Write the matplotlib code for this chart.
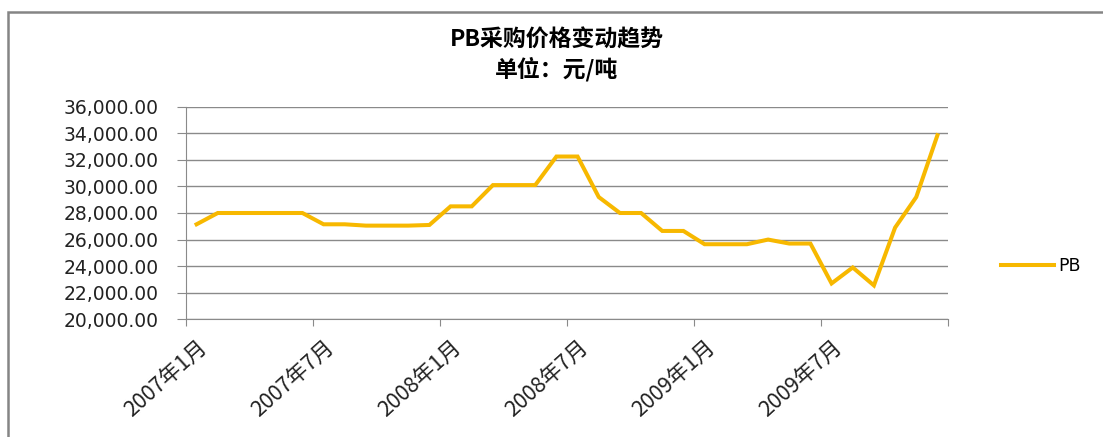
import matplotlib
matplotlib.use("Agg")
import matplotlib.pyplot as plt
from matplotlib.patches import Rectangle
from matplotlib.ticker import FuncFormatter
from matplotlib.transforms import ScaledTranslation

plt.rcParams['font.family'] = ['Noto Sans CJK SC', 'DejaVu Sans']

months = [f"{y}年{m}月" for y in (2007, 2008, 2009) for m in range(1, 13)]
pb = [27150, 28000, 28000, 28000, 28000, 28000, 27150, 27150, 27050, 27050, 27050, 27100,
      28500, 28500, 30100, 30100, 30100, 32250, 32250, 29200, 28000, 28000, 26650, 26650,
      25650, 25650, 25650, 26000, 25700, 25700, 22700, 23900, 22550, 26900, 29200, 33850]
label_idx = [0, 6, 12, 18, 24, 30]
yticks = list(range(20000, 36001, 2000))
title = "PB采购价格变动趋势\n单位：元/吨"
series_name = "PB"

fig = plt.figure(figsize=(11.03, 4.37), dpi=100)
fig.patches.append(Rectangle((8/1103, -0.1), 1.2, 1 - 12/437 + 0.1, transform=fig.transFigure,
                             fill=False, edgecolor='#858585', linewidth=1.8))
ax = fig.add_axes([186/1103, 1 - 319.3/437, (948 - 186)/1103, (319.3 - 106.7)/437])

x = list(range(len(pb)))
ax.plot(x, pb, color='#F7B800', linewidth=2.9, solid_joinstyle='miter', label=series_name)

ax.set_xlim(-0.5, len(pb) - 0.5)
ax.set_ylim(20000, 36000)
ax.set_yticks(yticks)
ax.yaxis.set_major_formatter(FuncFormatter(lambda v, p: f"{v:,.2f}"))
ax.grid(axis='y', color='#8a8a8a', linewidth=1)
ax.set_axisbelow(True)

ax.set_xticks([i - 0.5 for i in range(0, len(pb) + 1, 6)])
ax.set_xticklabels([])
ax.set_xticks(label_idx, minor=True)
ax.set_xticklabels([months[i] for i in label_idx], minor=True, rotation=42, ha='right',
                   va='top', rotation_mode='anchor', fontsize=15.5, color='#222222')
offset = ScaledTranslation(-6/100, 0, fig.dpi_scale_trans)
for lab in ax.get_xticklabels(minor=True):
    lab.set_transform(lab.get_transform() + offset)
ax.tick_params(axis='x', which='minor', length=0, pad=12)
ax.tick_params(axis='x', which='major', length=5, color='#8a8a8a', direction='out')
ax.tick_params(axis='y', length=6.5, color='#8a8a8a', labelsize=13.5, pad=13,
               labelcolor='#222222')
for lab in ax.get_yticklabels():
    lab.set_family('DejaVu Sans')

for s in ['top', 'right']:
    ax.spines[s].set_visible(False)
for s in ['left', 'bottom']:
    ax.spines[s].set_color('#8a8a8a')

fig.text(0.505, 1 - 55/437, title, ha='center', va='center', fontsize=16.5,
         fontweight='bold', linespacing=1.3)

leg = fig.legend(loc='center left', bbox_to_anchor=(985/1103, 1 - 266/437), frameon=False,
                 handlelength=3.1, handletextpad=0.2,
                 prop={'family': 'DejaVu Sans', 'size': 12.5})

fig.savefig('out.png', dpi=100)
